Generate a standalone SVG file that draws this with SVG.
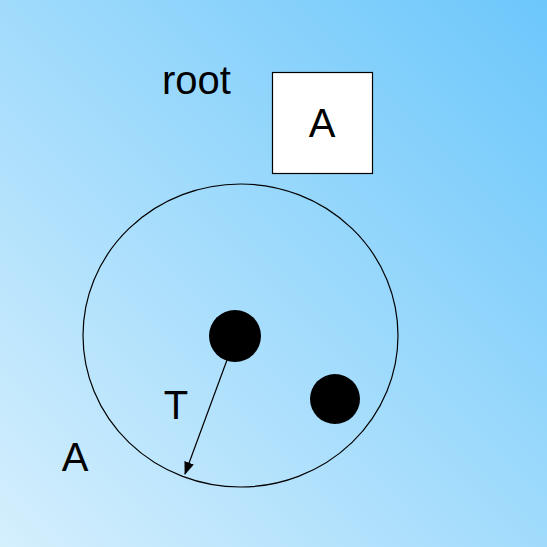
<svg xmlns="http://www.w3.org/2000/svg" width="547" height="547" viewBox="0 0 547 547">
<defs>
<linearGradient id="bg" x1="0" y1="1" x2="1" y2="0">
<stop offset="0" stop-color="#d5effd"/>
<stop offset="1" stop-color="#6cc7fb"/>
</linearGradient>
<marker id="ah" viewBox="0 0 13 10" refX="12" refY="5" markerWidth="13" markerHeight="10" markerUnits="userSpaceOnUse" orient="auto">
<path d="M0,0 L13,5 L0,10 z" fill="#000"/>
</marker>
<style>
text{font-family:"Liberation Sans",Arial,sans-serif;fill:#000}
.lbl{font-size:40px}
.dot{fill:#000}
</style>
</defs>
<rect width="547" height="547" fill="url(#bg)"/>
<g id="root-label"><text class="lbl" x="162" y="94">root</text></g>
<g id="box-A"><rect x="272.5" y="72.5" width="100" height="101" fill="#fff" stroke="#000" stroke-width="1.2"/><text class="lbl" x="322" y="137" text-anchor="middle">A</text></g>
<g id="region-A"><ellipse cx="240.5" cy="335.5" rx="157.5" ry="151.5" fill="none" stroke="#000" stroke-width="1.2"/><text class="lbl" x="75" y="471" text-anchor="middle">A</text></g>
<g id="dot1"><circle class="dot" cx="235" cy="336" r="26"/></g>
<g id="dot2"><circle class="dot" cx="335" cy="399" r="25"/></g>
<g id="connectors"><line x1="227" y1="360" x2="185" y2="474" stroke="#000" stroke-width="1.2" marker-end="url(#ah)"/></g>
<g id="T-label"><text class="lbl" x="176" y="419" text-anchor="middle">T</text></g>
</svg>
